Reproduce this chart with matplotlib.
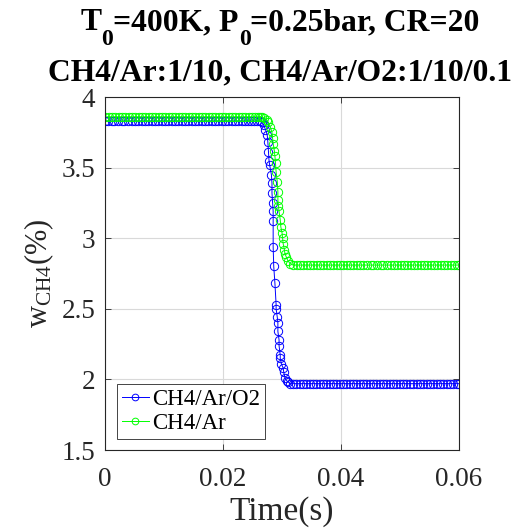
import matplotlib
matplotlib.use('Agg')
import matplotlib.pyplot as plt

plt.rcParams['font.family'] = ['Liberation Serif', 'DejaVu Serif']
plt.rcParams['mathtext.fontset'] = 'custom'
plt.rcParams['mathtext.rm'] = 'Liberation Serif'
plt.rcParams['mathtext.it'] = 'Liberation Serif:italic'
plt.rcParams['mathtext.bf'] = 'Liberation Serif:bold'

# CH4/Ar/O2 mixture: time (s) and CH4 mass fraction (%)
t_o2 = [0.0, 0.0005, 0.0011, 0.0016, 0.0022, 0.0028, 0.0033, 0.0039, 0.0045, 0.0050,
        0.0056, 0.0062, 0.0067, 0.0073, 0.0079, 0.0084, 0.0090, 0.0096, 0.0101, 0.0107,
        0.0113, 0.0118, 0.0124, 0.0130, 0.0135, 0.0141, 0.0147, 0.0152, 0.0158, 0.0164,
        0.0169, 0.0175, 0.0181, 0.0186, 0.0192, 0.0198, 0.0203, 0.0209, 0.0215, 0.0220,
        0.0226, 0.0232, 0.0237, 0.0243, 0.0248, 0.0253, 0.0258, 0.0262,
        0.0266, 0.0269, 0.0272, 0.0275, 0.0276, 0.0277, 0.0278, 0.0279, 0.0282, 0.0283,
        0.0283, 0.0284, 0.0285, 0.0285, 0.0285, 0.0286, 0.0288, 0.0290, 0.0290, 0.0292,
        0.0293, 0.0293, 0.0295, 0.0295, 0.0297, 0.0297, 0.0299, 0.0302, 0.0303, 0.0305,
        0.0308, 0.0311, 0.0314,
        0.0318, 0.0324, 0.0330, 0.0335, 0.0341, 0.0347, 0.0352, 0.0358, 0.0364, 0.0369,
        0.0375, 0.0381, 0.0386, 0.0392, 0.0398, 0.0403, 0.0409, 0.0415, 0.0420, 0.0426,
        0.0432, 0.0437, 0.0443, 0.0449, 0.0454, 0.0460, 0.0466, 0.0471, 0.0477, 0.0483,
        0.0488, 0.0494, 0.0500, 0.0505, 0.0511, 0.0517, 0.0522, 0.0528, 0.0534, 0.0539,
        0.0545, 0.0551, 0.0556, 0.0562, 0.0568, 0.0573, 0.0579, 0.0585, 0.0590, 0.0596,
        0.0600]
w_o2 = [3.83, 3.83, 3.83, 3.83, 3.83, 3.83, 3.83, 3.83, 3.83, 3.83,
        3.83, 3.83, 3.83, 3.83, 3.83, 3.83, 3.83, 3.83, 3.83, 3.83,
        3.83, 3.83, 3.83, 3.83, 3.83, 3.83, 3.83, 3.83, 3.83, 3.83,
        3.83, 3.83, 3.83, 3.83, 3.83, 3.83, 3.83, 3.83, 3.83, 3.83,
        3.83, 3.83, 3.83, 3.83, 3.83, 3.83, 3.83, 3.83,
        3.82, 3.80, 3.77, 3.73, 3.68, 3.61, 3.55, 3.52, 3.45, 3.39,
        3.32, 3.25, 3.19, 3.12, 2.94, 2.80, 2.68, 2.53, 2.50, 2.44,
        2.40, 2.34, 2.28, 2.24, 2.17, 2.15, 2.11, 2.08, 2.05, 2.01,
        1.99, 1.98, 1.97,
        1.97, 1.97, 1.97, 1.97, 1.97, 1.97, 1.97, 1.97, 1.97, 1.97,
        1.97, 1.97, 1.97, 1.97, 1.97, 1.97, 1.97, 1.97, 1.97, 1.97,
        1.97, 1.97, 1.97, 1.97, 1.97, 1.97, 1.97, 1.97, 1.97, 1.97,
        1.97, 1.97, 1.97, 1.97, 1.97, 1.97, 1.97, 1.97, 1.97, 1.97,
        1.97, 1.97, 1.97, 1.97, 1.97, 1.97, 1.97, 1.97, 1.97, 1.97,
        1.97]

# CH4/Ar mixture
t_ar = [0.0, 0.0006, 0.0012, 0.0017, 0.0023, 0.0029, 0.0034, 0.0040, 0.0046, 0.0051,
        0.0057, 0.0063, 0.0068, 0.0074, 0.0080, 0.0085, 0.0091, 0.0097, 0.0102, 0.0108,
        0.0114, 0.0119, 0.0125, 0.0131, 0.0136, 0.0142, 0.0148, 0.0153, 0.0159, 0.0165,
        0.0170, 0.0176, 0.0182, 0.0187, 0.0193, 0.0199, 0.0204, 0.0210, 0.0216, 0.0221,
        0.0227, 0.0233, 0.0238, 0.0244, 0.0249, 0.0254, 0.0259, 0.0263,
        0.0266, 0.0270, 0.0274, 0.0277, 0.0280, 0.0283, 0.0284, 0.0285, 0.0287, 0.0288,
        0.0289, 0.0290, 0.0292, 0.0293, 0.0293, 0.0294, 0.0295, 0.0297, 0.0298, 0.0300,
        0.0301, 0.0302, 0.0304, 0.0305, 0.0307, 0.0310, 0.0314,
        0.0319, 0.0325, 0.0331, 0.0336, 0.0342, 0.0348, 0.0353, 0.0359, 0.0365, 0.0370,
        0.0376, 0.0382, 0.0387, 0.0393, 0.0399, 0.0404, 0.0410, 0.0416, 0.0421, 0.0427,
        0.0433, 0.0438, 0.0444, 0.0450, 0.0455, 0.0461, 0.0467, 0.0472, 0.0478, 0.0484,
        0.0489, 0.0495, 0.0501, 0.0506, 0.0512, 0.0518, 0.0523, 0.0529, 0.0535, 0.0540,
        0.0546, 0.0552, 0.0557, 0.0563, 0.0569, 0.0574, 0.0580, 0.0586, 0.0591, 0.0596,
        0.0600]
w_ar = [3.86, 3.86, 3.86, 3.86, 3.86, 3.86, 3.86, 3.86, 3.86, 3.86,
        3.86, 3.86, 3.86, 3.86, 3.86, 3.86, 3.86, 3.86, 3.86, 3.86,
        3.86, 3.86, 3.86, 3.86, 3.86, 3.86, 3.86, 3.86, 3.86, 3.86,
        3.86, 3.86, 3.86, 3.86, 3.86, 3.86, 3.86, 3.86, 3.86, 3.86,
        3.86, 3.86, 3.86, 3.86, 3.86, 3.86, 3.86, 3.86,
        3.86, 3.85, 3.84, 3.82, 3.79, 3.75, 3.71, 3.67, 3.62, 3.58,
        3.53, 3.47, 3.40, 3.33, 3.27, 3.23, 3.19, 3.13, 3.08, 3.04,
        3.00, 2.96, 2.92, 2.89, 2.87, 2.84, 2.82,
        2.81, 2.81, 2.81, 2.81, 2.81, 2.81, 2.81, 2.81, 2.81, 2.81,
        2.81, 2.81, 2.81, 2.81, 2.81, 2.81, 2.81, 2.81, 2.81, 2.81,
        2.81, 2.81, 2.81, 2.81, 2.81, 2.81, 2.81, 2.81, 2.81, 2.81,
        2.81, 2.81, 2.81, 2.81, 2.81, 2.81, 2.81, 2.81, 2.81, 2.81,
        2.81, 2.81, 2.81, 2.81, 2.81, 2.81, 2.81, 2.81, 2.81, 2.81,
        2.81]

labels = ['CH4/Ar/O2', 'CH4/Ar']
xticks = [0, 0.02, 0.04, 0.06]
xticklabels = ['0', '0.02', '0.04', '0.06']
yticks = [1.5, 2, 2.5, 3, 3.5, 4]
yticklabels = ['1.5', '2', '2.5', '3', '3.5', '4']

# title line 1 pieces: (text, is_subscript)
title1 = [('T', False), ('0', True), ('=400K, P', False), ('0', True), ('=0.25bar, CR=20', False)]
title2 = 'CH4/Ar:1/10, CH4/Ar/O2:1/10/0.1'

dark = (0.15, 0.15, 0.15)
W, H = 514, 532

fig = plt.figure(figsize=(5.14, 5.32), dpi=100)
ax = fig.add_axes([0.2043, 0.1541, 0.6887, 0.6635])

ax.plot(t_o2, w_o2, '-o', color='b', lw=0.7, ms=6, mfc='none', mew=0.7, label=labels[0])
ax.plot(t_ar, w_ar, '-o', color=(0, 1, 0), lw=0.7, ms=6, mfc='none', mew=0.7, label=labels[1])

ax.set_xlim(0, 0.06)
ax.set_ylim(1.5, 4)
ax.set_xticks(xticks)
ax.set_xticklabels(xticklabels)
ax.set_yticks(yticks)
ax.set_yticklabels(yticklabels)
ax.grid(True, color=(0.85, 0.85, 0.85), lw=0.8)
ax.set_axisbelow(True)
ax.tick_params(direction='in', top=True, right=True, length=4, width=0.6,
               color=dark, labelcolor=dark, labelsize=19.5)
ax.tick_params(axis='x', pad=12)
ax.tick_params(axis='y', pad=7)
for s in ax.spines.values():
    s.set_color(dark)
    s.set_linewidth(0.8)

ax.set_xlabel('Time(s)', fontsize=24, color=dark, labelpad=3)
ax.set_ylabel(r'w$_{\rm CH4}$(%)', fontsize=22, color=dark, labelpad=4)

# title: line 1 built from pieces so the subscripts sit low like the original
tsize = 22.8
pieces = []
for txt, sub in title1:
    y = 1 - (45 if sub else 30) / H
    pieces.append(fig.text(0, y, txt, ha='left', va='baseline', fontweight='bold',
                           fontsize=tsize * 0.75 if sub else tsize))
renderer = fig.canvas.get_renderer()
widths = [p.get_window_extent(renderer).width for p in pieces]
x = 0.545 * W - sum(widths) / 2
for p, w in zip(pieces, widths):
    p.set_x(x / W)
    x += w
fig.text(0.545, 1 - 80 / H, title2, ha='center', va='baseline', fontsize=tsize,
         fontweight='bold')

leg = ax.legend(loc='lower left', bbox_to_anchor=(0.034, 0.031), fontsize=16.5,
                fancybox=False, framealpha=1, edgecolor=dark, borderaxespad=0,
                borderpad=0.2, labelspacing=0.15, handlelength=1.2, handletextpad=0.15,
                markerscale=0.8)
leg.get_frame().set_linewidth(0.6)

fig.savefig('out.png', dpi=100)
